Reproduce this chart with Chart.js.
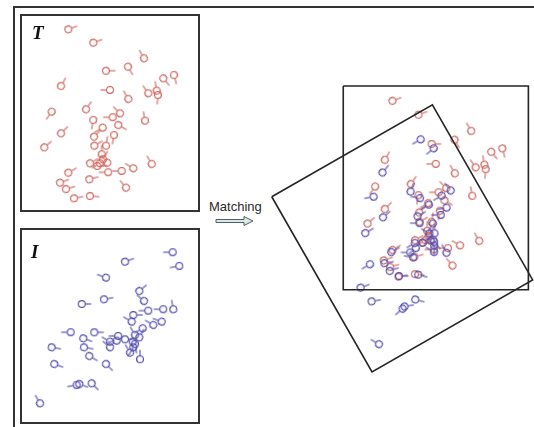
<!DOCTYPE html>
<html>
<head>
<meta charset="utf-8">
<script src="https://cdn.jsdelivr.net/npm/chart.js@4"></script>
<style>
    html, body { margin: 0; padding: 0; background: #fff; }
    body { width: 534px; height: 427px; position: relative; overflow: hidden; font-family: "Liberation Sans", Arial, sans-serif; }
    .frame { position: absolute; left: 13px; top: 6px; width: 540px; height: 440px; border-top: 2px solid #333; border-left: 2px solid #333; }
    .box { position: absolute; box-sizing: border-box; border: 2px solid #333; background: #fff; }
    .box .wrap { position: absolute; left: 0; top: 0; right: 0; bottom: 0; }
    .lbl { position: absolute; font: bold italic 19px "Liberation Serif", "DejaVu Serif", serif; line-height: 1; color: #111; }
    #matchTxt { position: absolute; left: 209px; top: 200px; font-size: 13px; line-height: 1; color: #2a2a2a; }
    #overlay { position: absolute; left: 262px; top: 78px; width: 272px; height: 310px; }
</style>
</head>
<body>
<div class="frame"></div>

<div class="box" style="left:20px; top:14px; width:180px; height:198px;">
    <div class="wrap"><canvas id="tChart"></canvas></div>
</div>
<div class="lbl" style="left:32px; top:23px;">T</div>

<div class="box" style="left:20px; top:228px; width:180px; height:196px;">
    <div class="wrap"><canvas id="iChart"></canvas></div>
</div>
<div class="lbl" style="left:31px; top:242px;">I</div>

<div id="matchTxt">Matching</div>
<svg style="position:absolute; left:210px; top:212px;" width="50" height="18">
    <polygon points="6,7.5 34,7.5 34,4.5 43,9 34,13.5 34,10.5 6,10.5" fill="#dbe7e8" stroke="#4f6263" stroke-width="1"/>
</svg>

<div id="overlay"><canvas id="ovChart"></canvas></div>

<script>
// template minutiae (red): position in panel units, direction in degrees (clockwise from east)
const tX = [46.3, 71.3, 122, 84, 106, 141.3, 152, 39, 88, 126.3, 134.7, 136, 106.3, 29.7, 64, 98, 90.7, 71.3, 123, 96.3,
            39, 80.7, 72, 92, 22.3, 72.3, 84, 79.7, 81, 78, 68, 75.3, 85.3, 129.7, 111.3, 99.7, 86.3, 46.3, 38, 67.3,
            44, 104, 52, 68];
const tY = [13.3, 26.7, 42.3, 54.7, 50.7, 62.3, 59, 70, 74, 77.3, 74.7, 79, 83, 95.7, 93.3, 97.3, 101.3, 104, 104.7, 109,
            117.3, 111.7, 120.7, 119, 131.3, 129.7, 129.7, 138.3, 143.3, 147.3, 147.3, 150, 146.7, 148, 152.3, 155, 156.3, 156.7, 166.7, 163.3,
            173, 171.7, 182.3, 180];
const tDir = [-20, -20, -120, 0, 60, 50, 75, -60, 180, -125, -100, 95, -120, 125, -55, -135, 180, 100, -100, 30,
              -45, 150, -45, 100, -40, -30, -80, -90, -60, 150, -30, 0, -130, -120, -150, 180, 180, -30, -20, -15,
              -15, -130, -10, 5];

// input minutiae (blue)
const iX = [150.7, 157.3, 103, 84, 117.3, 122, 59.7, 82, 111.3, 126.3, 141.3, 151.3, 109.7, 131.3, 139.7, 120.7, 48.7, 72.3, 61.3, 96.3,
            113, 117.3, 88, 94.7, 103, 110.7, 29.7, 62, 88, 113, 111.3, 108, 67.3, 118, 32.3, 84, 54.7, 57.3, 69.7, 18];
const iY = [22.3, 36, 31.7, 47.7, 61, 71, 74, 69.3, 85, 80.7, 79.3, 79.3, 91.7, 95, 91.7, 98.3, 102.3, 102.3, 108.3, 106,
            105, 107.3, 111.7, 110.7, 109.3, 111.7, 117.3, 117.3, 117.3, 114, 117.3, 122.7, 126, 129.3, 134, 134, 155, 154, 153.3, 173.3];
const iDir = [180, 170, -20, -160, -40, -140, 0, -10, 0, 180, 180, -100, -150, -150, -160, 150, 180, 0, 20, 180,
              -120, -60, -150, 170, 0, 90, 10, 10, -140, 80, 120, -120, 30, -90, 20, 45, 170, 20, 45, -120];

// matching result: rotation (deg) and translation taking I onto T
const matchAngle = -29.8;
const matchDX = -68.4;
const matchDY = 105.9;

const RED = 'rgb(204,100,90)';
const BLUE = 'rgb(80,74,176)';

function minutiaStyle(color) {
    const c = document.createElement('canvas');
    c.width = 26; c.height = 26;
    const g = c.getContext('2d');
    g.strokeStyle = color;
    g.lineWidth = 1.1;
    g.beginPath();
    g.arc(13, 13, 3.4, 0, Math.PI * 2);
    g.stroke();
    g.beginPath();
    g.moveTo(16.5, 13);
    g.lineTo(22.5, 13);
    g.stroke();
    return c;
}

const redStyle = minutiaStyle(RED);
const blueStyle = minutiaStyle(BLUE);

function pts(xs, ys) {
    return xs.map((x, i) => ({ x: x, y: ys[i] }));
}

function minutiaSet(data, dirs, style) {
    return {
        data: data,
        pointStyle: style,
        pointRadius: 4,
        pointRotation: ctx => dirs[ctx.dataIndex],
        showLine: false,
        clip: false
    };
}

function frameSet(corners) {
    return {
        data: corners.concat([corners[0]]),
        showLine: true,
        borderColor: '#252525',
        borderWidth: 1.6,
        pointRadius: 0,
        tension: 0,
        fill: false,
        clip: false
    };
}

function makeChart(id, datasets, xr, yr) {
    return new Chart(document.getElementById(id), {
        type: 'scatter',
        data: { datasets: datasets },
        options: {
            responsive: true,
            maintainAspectRatio: false,
            animation: false,
            events: [],
            layout: { padding: 0, autoPadding: false },
            plugins: { legend: { display: false }, tooltip: { enabled: false } },
            scales: {
                x: { type: 'linear', display: false, min: xr[0], max: xr[1] },
                y: { type: 'linear', display: false, reverse: true, min: yr[0], max: yr[1] }
            }
        }
    });
}

// left panels
makeChart('tChart', [minutiaSet(pts(tX, tY), tDir, redStyle)], [0, 176], [0, 194]);
makeChart('iChart', [minutiaSet(pts(iX, iY), iDir, blueStyle)], [0, 176], [0, 192]);

// overlay: I mapped into T's frame
const rad = matchAngle * Math.PI / 180;
const cs = Math.cos(rad), sn = Math.sin(rad);
function toT(p) {
    return { x: matchDX + cs * p.x - sn * p.y, y: matchDY + sn * p.x + cs * p.y };
}
const iMapped = pts(iX, iY).map(toT);
const iDirMapped = iDir.map(d => d + matchAngle);

const tFrame = [{ x: -1, y: -1 }, { x: 177, y: -1 }, { x: 177, y: 195 }, { x: -1, y: 195 }];
const iFrame = [{ x: -1, y: -1 }, { x: 177, y: -1 }, { x: 177, y: 193 }, { x: -1, y: 193 }].map(toT);

// overlay canvas placement: T panel origin at (344.3, 87), scale 1.04
const ovLeft = 262, ovTop = 78, ovW = 272, ovH = 310, ox = 344.3, oy = 87, sc = 1.04;
makeChart('ovChart', [
    frameSet(tFrame),
    frameSet(iFrame),
    minutiaSet(iMapped, iDirMapped, blueStyle),
    minutiaSet(pts(tX, tY), tDir, redStyle)
], [(ovLeft - ox) / sc, (ovLeft + ovW - ox) / sc], [(ovTop - oy) / sc, (ovTop + ovH - oy) / sc]);
</script>
</body>
</html>
